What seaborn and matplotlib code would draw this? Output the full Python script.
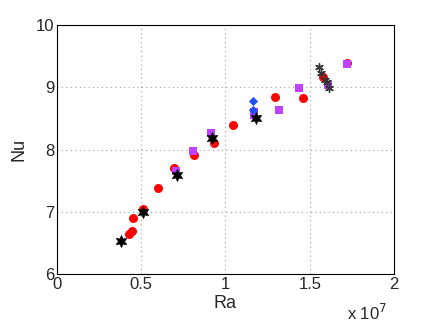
import numpy as np
import pandas as pd
import matplotlib
matplotlib.use("Agg")
import matplotlib.pyplot as plt
import seaborn as sns

# Ra in units of 1e7, Nu
red_ra = [0.427, 0.445, 0.451, 0.510, 0.600, 0.697, 0.813, 0.930, 1.045, 1.294, 1.460, 1.579, 1.721]
red_nu = [6.64, 6.69, 6.90, 7.04, 7.38, 7.71, 7.91, 8.10, 8.39, 8.84, 8.83, 9.16, 9.39]

purple_ra = [0.706, 0.807, 0.914, 1.169, 1.172, 1.318, 1.436, 1.608, 1.721]
purple_nu = [7.65, 7.98, 8.27, 8.60, 8.56, 8.63, 8.99, 9.04, 9.37]

blue_ra = [1.163, 1.163]
blue_nu = [8.78, 8.63]

hex_ra = [0.380, 0.510, 0.712, 0.920, 1.180]
hex_nu = [6.53, 7.00, 7.59, 8.18, 8.51]

ast_ra = [1.555, 1.567, 1.590, 1.602, 1.614]
ast_nu = [9.33, 9.23, 9.12, 9.08, 8.99]

sns.set_style("white")
plt.rcParams['font.family'] = ['Liberation Sans', 'DejaVu Sans']

fig = plt.figure(figsize=(4.36, 3.28), dpi=100)
ax = fig.add_axes([0.1307, 0.1646, 0.7730, 0.7592])

sns.scatterplot(x=red_ra, y=red_nu, ax=ax, color="#ff0000", marker="o", s=42, edgecolor="#ff0000", linewidth=0, zorder=3)
sns.scatterplot(x=purple_ra, y=purple_nu, ax=ax, color="#bf40ff", marker="s", s=30, edgecolor="#bf40ff", linewidth=0, zorder=4)
sns.scatterplot(x=blue_ra, y=blue_nu, ax=ax, color="#1f4fff", marker="D", s=22, edgecolor="#1f4fff", linewidth=0, zorder=4)
sns.scatterplot(x=hex_ra, y=hex_nu, ax=ax, color="black", marker=(6, 1, 0), s=75, edgecolor="black", linewidth=0.5, zorder=5)
sns.scatterplot(x=ast_ra, y=ast_nu, ax=ax, color="#333333", marker=(6, 2, 0), s=30, edgecolor="#333333", linewidth=1.0, zorder=5)

ax.set_xlim(0, 2)
ax.set_ylim(6, 10)
ax.set_xticks([0, 0.5, 1, 1.5, 2])
ax.set_xticklabels(["0", "0.5", "1", "1.5", "2"])
ax.set_yticks([6, 7, 8, 9, 10])
ax.grid(True, linestyle=(0, (1, 3)), color="#a0a0a0", linewidth=0.8)
ax.tick_params(labelsize=12, length=0, pad=2)
for sp in ax.spines.values():
    sp.set_color("black")
    sp.set_linewidth(0.8)

ax.set_xlabel("Ra", fontsize=13, labelpad=2)
ax.set_ylabel("Nu", fontsize=13, labelpad=6)
fig.text(0.795, 0.015, r"x 10$^7$", fontsize=12, ha="left", va="bottom")

fig.savefig("out.png", dpi=100)
